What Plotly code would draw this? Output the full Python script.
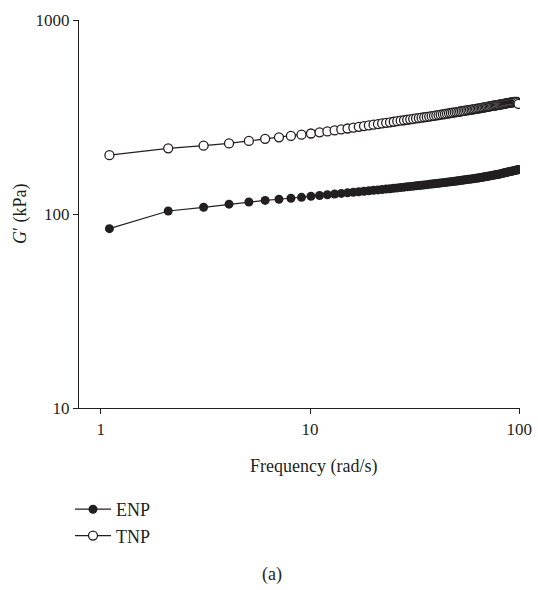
import plotly.graph_objects as go

# Angular frequency sweep (rad/s)
freq = [1.1, 2.1, 3.1, 4.1, 5.1, 6.1, 7.1, 8.1, 9.1, 10.1,
        11.1, 12.1, 13.1, 14.1, 15.1, 16.1, 17.1, 18.1, 19.1, 20.1,
        21.1, 22.1, 23.1, 24.1, 25.1, 26.1, 27.1, 28.1, 29.1, 30.1,
        31.1, 32.1, 33.1, 34.1, 35.1, 36.1, 37.1, 38.1, 39.1, 40.1,
        41.1, 42.1, 43.1, 44.1, 45.1, 46.1, 47.1, 48.1, 49.1, 50.1,
        51.1, 52.1, 53.1, 54.1, 55.1, 56.1, 57.1, 58.1, 59.1, 60.1,
        61.1, 62.1, 63.1, 64.1, 65.1, 66.1, 67.1, 68.1, 69.1, 70.1,
        71.1, 72.1, 73.1, 74.1, 75.1, 76.1, 77.1, 78.1, 79.1, 80.1,
        81.1, 82.1, 83.1, 84.1, 85.1, 86.1, 87.1, 88.1, 89.1, 90.1,
        91.1, 92.1, 93.1, 94.1, 95.1, 96.1, 97.1, 98.1, 99.1]

# Storage modulus G' (kPa)
enp = [84.0, 103.6, 108.3, 112.4, 115.3, 117.5, 119.1, 120.5, 121.9, 123.4,
       124.6, 125.7, 126.7, 127.7, 128.6, 129.5, 130.3, 131.0, 131.8, 132.5,
       133.1, 133.8, 134.4, 135.0, 135.7, 136.3, 136.9, 137.5, 138.1, 138.7,
       139.2, 139.7, 140.2, 140.7, 141.2, 141.7, 142.2, 142.7, 143.2, 143.6,
       144.1, 144.6, 145.0, 145.4, 145.9, 146.3, 146.7, 147.1, 147.5, 147.9,
       148.3, 148.8, 149.2, 149.6, 150.0, 150.4, 150.9, 151.2, 151.6, 152.0,
       152.4, 152.8, 153.1, 153.5, 154.0, 154.5, 154.9, 155.4, 155.8, 156.3,
       156.7, 157.2, 157.6, 158.1, 158.5, 158.9, 159.3, 159.7, 160.1, 160.5,
       161.0, 161.5, 162.0, 162.5, 163.0, 163.5, 164.0, 164.5, 164.9, 165.4,
       165.9, 166.3, 166.8, 167.2, 167.7, 168.2, 168.6, 169.0, 169.5]

tnp = [201.0, 218.0, 225.0, 231.0, 238.0, 244.0, 248.5, 252.5, 256.5, 260.0,
       263.5, 266.5, 269.8, 273.0, 275.9, 278.7, 281.4, 283.9, 286.3, 288.6,
       290.8, 292.9, 295.0, 297.0, 298.9, 300.8, 302.6, 304.3, 306.0, 307.6,
       309.2, 310.8, 312.3, 313.7, 315.2, 316.6, 318.0, 319.3, 320.8, 322.2,
       323.6, 325.0, 326.4, 327.7, 329.0, 330.3, 331.6, 332.8, 334.1, 335.2,
       336.4, 337.6, 338.7, 339.9, 341.0, 342.1, 343.1, 344.2, 345.3, 346.3,
       347.4, 348.5, 349.6, 350.7, 351.7, 352.7, 353.8, 354.8, 355.8, 356.8,
       357.8, 358.7, 359.7, 360.6, 361.6, 362.5, 363.4, 364.4, 365.2, 366.1,
       367.0, 367.9, 368.8, 369.6, 370.5, 371.3, 372.2, 373.0, 373.8, 374.6,
       375.4, 376.2, 377.0, 377.8, 378.4, 378.8, 378.0, 375.5, 369.5]

x_ticks = [1, 10, 100]
y_ticks = [10, 100, 1000]

INK = "#231f20"
FONT = "Liberation Serif"

fig = go.Figure()

fig.add_trace(go.Scatter(
    x=freq, y=enp, name="ENP", mode="lines+markers",
    line=dict(color=INK, width=1.2),
    marker=dict(symbol="circle", size=9, color=INK, line=dict(width=0)),
))

fig.add_trace(go.Scatter(
    x=freq, y=tnp, name="TNP", mode="lines+markers",
    line=dict(color=INK, width=1.2),
    marker=dict(symbol="circle", size=9, color="white",
                line=dict(color=INK, width=1.3)),
))

axis_common = dict(
    type="log",
    automargin=False,
    showgrid=False,
    zeroline=False,
    showline=True,
    linecolor=INK,
    linewidth=1.2,
    ticks="outside",
    ticklen=5,
    tickwidth=1.2,
    tickcolor=INK,
    tickfont=dict(family=FONT, size=17, color=INK),
    mirror=False,
)

fig.update_xaxes(range=[-0.104, 2.003], tickvals=x_ticks,
                 ticktext=[str(v) for v in x_ticks], **axis_common)
fig.update_yaxes(range=[1, 3], tickvals=y_ticks,
                 ticktext=[str(v) for v in y_ticks], **axis_common)

fig.add_annotation(text="Frequency (rad/s)", xref="paper", yref="paper",
                   x=(313 - 79) / 441, y=-(467 - 408) / 388,
                   xanchor="center", yanchor="middle", showarrow=False,
                   font=dict(family=FONT, size=18, color=INK))
fig.add_annotation(text="<i>G</i>′ (kPa)", xref="paper", yref="paper",
                   x=-(79 - 20) / 441, y=0.5, textangle=-90,
                   xanchor="center", yanchor="middle", showarrow=False,
                   font=dict(family=FONT, size=18, color=INK))
fig.add_annotation(text="(a)", xref="paper", yref="paper",
                   x=(272 - 79) / 441, y=-(574 - 408) / 388,
                   xanchor="center", yanchor="middle", showarrow=False,
                   font=dict(family=FONT, size=18, color=INK))

fig.update_layout(
    width=538, height=590,
    margin=dict(l=79, r=18, t=20, b=182, autoexpand=False),
    paper_bgcolor="white", plot_bgcolor="white",
    showlegend=True,
    legend=dict(
        x=(70 - 79) / 441, xanchor="left",
        y=-(491 - 408) / 388, yanchor="top",
        font=dict(family=FONT, size=18, color=INK),
        bgcolor="rgba(0,0,0,0)", borderwidth=0,
        itemwidth=36, tracegroupgap=0,
    ),
)

fig.write_html("out.html")
